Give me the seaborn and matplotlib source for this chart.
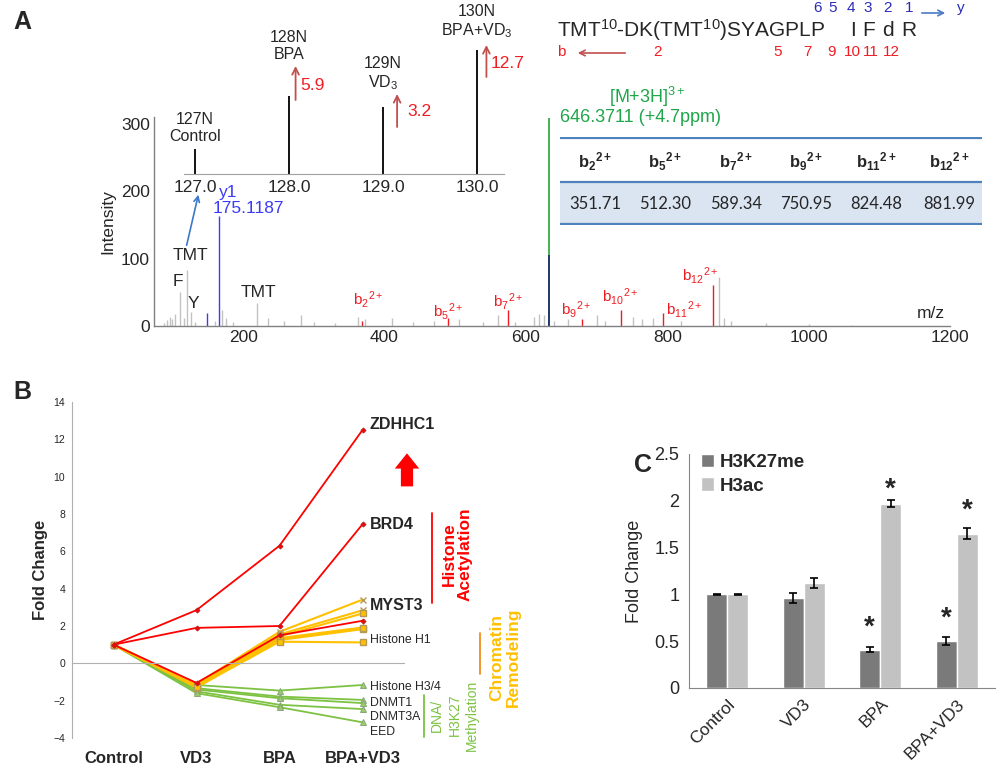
import numpy as np
import pandas as pd
import matplotlib
matplotlib.use("Agg")
import matplotlib.pyplot as plt
import seaborn as sns
from matplotlib.patches import FancyArrowPatch, Rectangle
from matplotlib.ticker import MultipleLocator, FixedLocator

sns.set_style("white")
plt.rcParams['font.family'] = ['Liberation Sans', 'DejaVu Sans']
plt.rcParams['mathtext.fontset'] = 'custom'
plt.rcParams['mathtext.rm'] = 'Liberation Sans'
plt.rcParams['mathtext.it'] = 'Liberation Sans:italic'
plt.rcParams['mathtext.bf'] = 'Liberation Sans:bold'

# ---------------- Data: panel A (MS/MS spectrum) ----------------
gray_mz = [88, 92, 96, 100, 104, 111, 116, 121, 126, 132, 160, 170, 176, 186, 220, 235, 258,
           282, 300, 330, 362, 372, 410, 440, 470, 505, 540, 560, 585, 612, 618, 625, 640,
           660, 700, 712, 752, 765, 780, 820, 873, 880, 890, 940, 1000, 1060]
gray_int = [5, 9, 14, 10, 18, 50, 12, 83, 21, 6, 8, 24, 12, 6, 34, 12, 8,
            16, 6, 5, 14, 10, 12, 6, 8, 10, 6, 16, 6, 14, 18, 16, 8,
            10, 16, 8, 14, 10, 12, 8, 73, 12, 8, 5, 3, 2]
red_mz = [368, 490, 575, 679, 735, 794, 865]
red_int = [8, 12, 24, 10, 24, 19, 61]
red_labels = [r'b$_{2}$$^{2+}$', r'b$_{5}$$^{2+}$', r'b$_{7}$$^{2+}$', r'b$_{9}$$^{2+}$',
              r'b$_{10}$$^{2+}$', r'b$_{11}$$^{2+}$', r'b$_{12}$$^{2+}$']
red_label_px = [(368, 300), (448, 312), (508, 301), (576, 310), (620, 297), (684, 310), (700, 275)]
blue_mz = [149, 166]
blue_int = [19, 163]
prec_mz = 633
prec_int = 308
prec_dark_int = 105

inset_mz = [127.0, 128.0, 129.0, 130.0]
inset_int = [25, 78, 67, 124]
inset_labels = ['127N\nControl', '128N\nBPA', '129N\nVD$_3$', '130N\nBPA+VD$_3$']
inset_label_y = [46, 128, 100, 152]
fold_text = ['', '5.9', '3.2', '12.7']
fold_arrow = [None, (128.07, 74, 108), (129.15, 47, 80), (130.10, 97, 129)]
fold_text_pos = [None, (128.12, 88), (129.26, 63), (130.14, 110)]

table_headers = [r'$\mathbf{b_{2}}$$\mathbf{^{2+}}$', r'$\mathbf{b_{5}}$$\mathbf{^{2+}}$',
                 r'$\mathbf{b_{7}}$$\mathbf{^{2+}}$', r'$\mathbf{b_{9}}$$\mathbf{^{2+}}$',
                 r'$\mathbf{b_{11}}$$\mathbf{^{2+}}$', r'$\mathbf{b_{12}}$$\mathbf{^{2+}}$']
table_values = ['351.71', '512.30', '589.34', '750.95', '824.48', '881.99']

# ---------------- Data: panel B ----------------
conditions = ['Control', 'VD3', 'BPA', 'BPA+VD3']
red_series = {
    'ZDHHC1': [1.0, 2.85, 6.3, 12.5],
    'BRD4': [1.0, 1.9, 2.0, 7.45],
    'MYST3': [1.0, -1.05, 1.5, 2.28],
}
orange_series = [
    [1.0, -1.10, 1.69, 3.41],
    [1.0, -1.15, 1.55, 2.84],
    [1.0, -1.20, 1.45, 2.67],
    [1.0, -1.22, 1.35, 1.92],
    [1.0, -1.25, 1.25, 1.83],
    [1.0, -1.30, 1.30, 1.88],
    [1.0, -1.28, 1.16, 1.12],
]
orange_markers = ['x', 'x', 's', '+', 's', 's', 's']
green_series = [
    [1.0, -1.16, -1.46, -1.16],
    [1.0, -1.33, -1.78, -1.96],
    [1.0, -1.40, -1.87, -2.13],
    [1.0, -1.50, -2.22, -2.45],
    [1.0, -1.60, -2.35, -3.16],
]
gene_labels = ['ZDHHC1', 'BRD4', 'MYST3', 'Histone H1', 'Histone H3/4', 'DNMT1', 'DNMT3A', 'EED']
gene_label_y = [12.8, 7.45, 3.1, 1.25, -1.25, -2.1, -2.9, -3.7]
gene_label_bold = [True, True, True, False, False, False, False, False]
group_lines_green = ['DNA/', 'H3K27', 'Methylation']

# ---------------- Data: panel C ----------------
marks = ['H3K27me', 'H3ac']
h3k27me = [1.0, 0.96, 0.41, 0.50]
h3k27me_err = [0.005, 0.055, 0.03, 0.045]
h3ac = [1.0, 1.12, 1.97, 1.65]
h3ac_err = [0.005, 0.05, 0.04, 0.055]
star_h3k27me = [None, None, 0.64, 0.74]
star_h3ac = [None, None, 2.12, 1.90]

# ---------------- Figure ----------------
W, H = 1000, 770
fig = plt.figure(figsize=(10, 7.7), dpi=100)

def fx(px):
    return px / W

def fy(py):
    return 1 - py / H

def ftext(px, py, s, **kw):
    return fig.text(fx(px), fy(py), s, **kw)

RED = '#ee1d23'
BLUE = '#3b3bf5'
GREEN = '#1fa64a'
GRAY_SP = '#808080'

# Panel letters
ftext(22, 22, 'A', fontsize=18, fontweight='bold', va='center', ha='center')
ftext(22, 392, 'B', fontsize=18, fontweight='bold', va='center', ha='center')
ftext(643, 465, 'C', fontsize=18, fontweight='bold', va='center', ha='center')

# ---- Panel A main spectrum ----
axA = fig.add_axes([fx(154), fy(326), (950 - 154) / W, (326 - 117) / H])
axA.patch.set_alpha(0)
axA.vlines(gray_mz, 0, gray_int, color='#c2c2c2', lw=1.0)
axA.vlines(red_mz, 0, red_int, color=RED, lw=1.0)
axA.vlines(blue_mz, 0, blue_int, color=BLUE, lw=1.0)
axA.vlines([prec_mz], 0, [prec_int], color='#22a63a', lw=1.2)
axA.vlines([prec_mz], 0, [prec_dark_int], color='#1f3170', lw=1.3)
axA.set_xlim(74, 1200)
axA.set_ylim(0, 310)
axA.set_xticks([200, 400, 600, 800, 1000, 1200])
axA.set_yticks([0, 100, 200, 300])
axA.xaxis.set_minor_locator(MultipleLocator(100))
axA.yaxis.set_minor_locator(MultipleLocator(20))
axA.tick_params(axis='both', which='major', labelsize=12.5, length=3, direction='in', color=GRAY_SP, pad=3)
axA.tick_params(axis='both', which='minor', length=2, direction='in', color=GRAY_SP)
for s in ['top', 'right']:
    axA.spines[s].set_visible(False)
for s in ['left', 'bottom']:
    axA.spines[s].set_color(GRAY_SP)
    axA.spines[s].set_linewidth(1.0)
axA.set_ylabel('Intensity', fontsize=12.5, labelpad=4)

for lab, (px, py) in zip(red_labels, red_label_px):
    ftext(px, py, lab, color=RED, fontsize=11, ha='center', va='center')
ftext(190, 255, 'TMT', fontsize=12.5, ha='center', va='center')
ftext(178, 282, 'F', fontsize=12.5, ha='center', va='center')
ftext(193, 303, 'Y', fontsize=12.5, ha='center', va='center')
ftext(258, 293, 'TMT', fontsize=12.5, ha='center', va='center')
ftext(931, 313, 'm/z', fontsize=12.5, ha='center', va='center')
ftext(228, 192, 'y1', fontsize=12.5, ha='center', va='center', color=BLUE)
ftext(213, 209, '175.1187', fontsize=12.5, ha='left', va='center', color=BLUE)
fig.add_artist(FancyArrowPatch((fx(186), fy(248)), (fx(199), fy(192)), transform=fig.transFigure,
                               arrowstyle='->', color='#3a78c9', lw=1.2, mutation_scale=10))

# ---- Inset (TMT reporter ions) ----
axI = fig.add_axes([fx(184), fy(174), (504 - 184) / W, 150 / H])
axI.patch.set_alpha(0)
axI.vlines(inset_mz, 0, inset_int, color='black', lw=1.3)
axI.set_xlim(126.883, 130.287)
axI.set_ylim(0, 150)
axI.set_xticks(inset_mz)
axI.set_xticklabels([f'{v:.1f}' for v in inset_mz])
axI.xaxis.set_minor_locator(MultipleLocator(0.1))
axI.tick_params(axis='x', which='major', labelsize=12.5, length=0, pad=4)
axI.tick_params(axis='x', which='minor', length=2, direction='in', color='#a0a0a0')
axI.set_yticks([])
for s in ['top', 'right', 'left']:
    axI.spines[s].set_visible(False)
axI.spines['bottom'].set_color('#a0a0a0')
for x, lab, ly in zip(inset_mz, inset_labels, inset_label_y):
    axI.text(x, ly, lab, ha='center', va='center', fontsize=11.5, clip_on=False, linespacing=1.15)
for arr, tp, ft in zip(fold_arrow, fold_text_pos, fold_text):
    if arr is None:
        continue
    x, y0, y1 = arr
    axI.annotate('', xy=(x, y1), xytext=(x, y0), annotation_clip=False,
                 arrowprops=dict(arrowstyle='->', color='#c0504d', lw=1.3, mutation_scale=12,
                                 shrinkA=0, shrinkB=0))
    axI.text(tp[0], tp[1], ft, color=RED, fontsize=12.5, ha='left', va='center', clip_on=False)

# ---- Sequence annotation ----
ftext(557, 30, r'TMT$^{10}$-DK(TMT$^{10}$)SYAGPLP', fontsize=15, ha='left', va='center')
for ch, px in zip(['I', 'F', 'd', 'R'], [853, 869, 888, 909]):
    ftext(px, 30, ch, fontsize=15, ha='center', va='center')
for n, px in zip(['6', '5', '4', '3', '2', '1'], [817, 833, 851, 868, 888, 909]):
    ftext(px, 8, n, color='#2b2bb8', fontsize=11, ha='center', va='center')
fig.add_artist(FancyArrowPatch((fx(919), fy(13)), (fx(948), fy(13)), transform=fig.transFigure,
                               arrowstyle='->', color='#4a7cc7', lw=1.2, mutation_scale=10))
ftext(961, 8, 'y', color='#2b2bb8', fontsize=11, ha='center', va='center')
ftext(561, 52, 'b', color=RED, fontsize=11, ha='center', va='center')
fig.add_artist(FancyArrowPatch((fx(628), fy(53)), (fx(575), fy(53)), transform=fig.transFigure,
                               arrowstyle='->', color='#c0504d', lw=1.2, mutation_scale=10))
for n, px in zip(['2', '5', '7', '9', '10', '11', '12'], [658, 778, 807, 832, 852, 871, 891]):
    ftext(px, 52, n, color=RED, fontsize=11, ha='center', va='center')

ftext(647, 97, r'[M+3H]$^{3+}$', color=GREEN, fontsize=13, ha='center', va='center')
ftext(560, 117, '646.3711 (+4.7ppm)', color=GREEN, fontsize=13, ha='left', va='center')

# ---- Table ----
axT = fig.add_axes([fx(560), fy(225), (982 - 560) / W, (225 - 137) / H])
axT.set_xlim(0, 422)
axT.set_ylim(88, 0)
axT.axis('off')
axT.add_patch(Rectangle((0, 45), 422, 43, facecolor='#dbe5f1', edgecolor='none'))
for yl in [1, 45, 87]:
    axT.plot([0, 422], [yl, yl], color='#4f81bd', lw=1.6, solid_capstyle='butt')
col_x = [35, 105, 176, 246, 316, 389]
for cx, hd, vl in zip(col_x, table_headers, table_values):
    axT.text(cx, 25, hd, ha='center', va='center', fontsize=12)
    axT.text(cx, 67, vl, ha='center', va='center', fontsize=12, family='Lato')

# ---- Panel B ----
axB = fig.add_axes([fx(72), fy(738), (404 - 72) / W, (738 - 402) / H])
axB.patch.set_alpha(0)
xpos = np.arange(len(conditions))
GR = '#7dc242'
OR = '#ffc000'
for vals in green_series:
    sns.lineplot(x=xpos, y=vals, ax=axB, color=GR, lw=1.3, marker='^', markersize=4.5,
                 markeredgecolor='#8aa87a', markerfacecolor='#9ccc6a', legend=False)
for vals, mk in zip(orange_series, orange_markers):
    sns.lineplot(x=xpos, y=vals, ax=axB, color=OR, lw=1.5, marker=mk, markersize=4.5,
                 markeredgecolor='#b39a5a', markerfacecolor='#ffc000', mew=1.0, legend=False)
for name, vals in red_series.items():
    sns.lineplot(x=xpos, y=vals, ax=axB, color='#ff0000', lw=1.3, marker='D', markersize=2.5,
                 markeredgecolor='#c02020', markerfacecolor='#ff0000', legend=False)
axB.set_xlim(-0.5, 3.5)
axB.set_ylim(-4, 14)
axB.set_yticks(np.arange(-4, 15, 2))
axB.tick_params(axis='y', labelsize=7.5, length=3, direction='out', color='#a6a6a6', pad=2)
axB.spines['bottom'].set_position(('data', 0))
axB.set_xticks([])
axB.xaxis.set_minor_locator(FixedLocator([-0.5, 0.5, 1.5, 2.5, 3.5]))
axB.tick_params(axis='x', which='minor', length=4, direction='out', color='#b0b0b0')
for s in ['top', 'right']:
    axB.spines[s].set_visible(False)
for s in ['left', 'bottom']:
    axB.spines[s].set_color('#b0b0b0')
axB.set_ylabel('Fold Change', fontsize=12, fontweight='bold', labelpad=4)
axB.set_xlabel('')
for i, c in enumerate(conditions):
    axB.text(i, -5.12, c, ha='center', va='center', fontsize=12, fontweight='bold', clip_on=False)
for lab, ly, bd in zip(gene_labels, gene_label_y, gene_label_bold):
    axB.text(3.09, ly, lab, ha='left', va='center', clip_on=False,
             fontsize=11.5 if bd else 8.8, fontweight='bold' if bd else 'normal')
arrow_big = FancyArrowPatch((3.536, 9.33), (3.536, 11.4), transform=axB.transData,
                            arrowstyle='simple,head_length=1.0,head_width=1.6,tail_width=0.8',
                            mutation_scale=11, color='#ff0000', lw=0, clip_on=False)
axB.add_patch(arrow_big)
axB.plot([3.837, 3.837], [8.05, 3.25], color='#ff0000', lw=1.3, clip_on=False)
axB.text(4.14, 5.87, 'Histone\nAcetylation', rotation=90, ha='center', va='center',
         color='#ff0000', fontsize=12.5, fontweight='bold', linespacing=1.1, clip_on=False)
axB.plot([4.416, 4.416], [1.65, -0.59], color='#f08c1e', lw=1.3, clip_on=False)
axB.text(4.72, 0.32, 'Chromatin\nRemodeling', rotation=90, ha='center', va='center',
         color=OR, fontsize=12.5, fontweight='bold', linespacing=1.1, clip_on=False)
axB.plot([3.74, 3.74], [-1.7, -3.95], color='#7dc242', lw=1.3, clip_on=False)
for txt, gx in zip(group_lines_green, [3.90, 4.115, 4.32]):
    axB.text(gx, -2.77, txt, rotation=90, ha='center', va='center',
             color='#7dc242', fontsize=10, clip_on=False)

# ---- Panel C ----
axC = fig.add_axes([fx(689), fy(688), (995 - 689) / W, (688 - 454) / H])
dfC = pd.DataFrame({
    'cond': conditions * 2,
    'mark': [marks[0]] * 4 + [marks[1]] * 4,
    'val': h3k27me + h3ac,
})
DARK, LIGHT = '#7a7a7a', '#c2c2c2'
sns.barplot(data=dfC, x='cond', y='val', hue='mark', hue_order=marks, order=conditions,
            palette=[DARK, LIGHT], width=0.55, errorbar=None, saturation=1, ax=axC, legend=False)
for cont, errs, stars in zip(axC.containers, [h3k27me_err, h3ac_err], [star_h3k27me, star_h3ac]):
    for bar, e, st in zip(cont, errs, stars):
        cx = bar.get_x() + bar.get_width() / 2
        axC.errorbar(cx, bar.get_height(), yerr=e, fmt='none', ecolor='black', elinewidth=1.2,
                     capsize=3, capthick=1.2)
        if st is not None:
            axC.text(cx, st, '*', ha='center', va='center', fontsize=20, fontweight='bold')
axC.set_ylim(0, 2.5)
axC.set_xlim(-0.5, 3.5)
axC.set_yticks([0, 0.5, 1, 1.5, 2, 2.5])
axC.set_yticklabels(['0', '0.5', '1', '1.5', '2', '2.5'])
axC.tick_params(axis='y', labelsize=13, length=4, direction='out', color='#868686', pad=3)
axC.set_xticks(range(4))
axC.set_xticklabels(conditions, rotation=45, ha='right', rotation_mode='anchor', fontsize=12.5)
axC.tick_params(axis='x', which='major', length=0, pad=6)
axC.xaxis.set_minor_locator(FixedLocator([-0.5, 0.5, 1.5, 2.5, 3.5]))
axC.tick_params(axis='x', which='minor', length=4, direction='out', color='#868686')
for s in ['top', 'right']:
    axC.spines[s].set_visible(False)
for s in ['left', 'bottom']:
    axC.spines[s].set_color('#868686')
axC.set_xlabel('')
axC.set_ylabel('Fold Change', fontsize=13, labelpad=8)
handles = [Rectangle((0, 0), 1, 1, facecolor=DARK), Rectangle((0, 0), 1, 1, facecolor=LIGHT)]
axC.legend(handles, marks, loc='upper left', bbox_to_anchor=(fx(697), fy(450)),
           bbox_transform=fig.transFigure, frameon=False,
           prop={'weight': 'bold', 'size': 13.5}, handlelength=0.7, handleheight=0.7,
           handletextpad=0.3, labelspacing=0.35, borderpad=0.2, borderaxespad=0)

fig.savefig('out.png', dpi=100)
